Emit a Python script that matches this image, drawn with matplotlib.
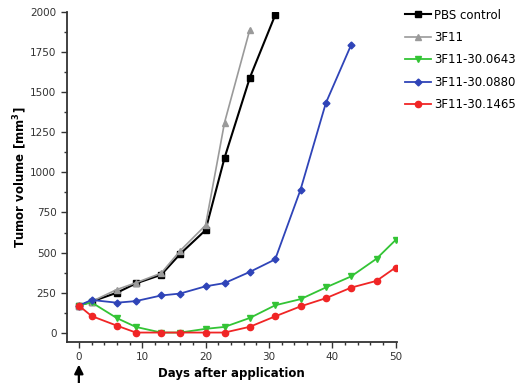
import matplotlib.pyplot as plt
from matplotlib.ticker import MultipleLocator

days_pbs = [0, 2, 6, 9, 13, 16, 20, 23, 27, 31]
pbs = [170, 195, 250, 308, 362, 492, 640, 1090, 1590, 1980]

days_3f11 = [0, 2, 6, 9, 13, 16, 20, 23, 27]
f11 = [170, 195, 270, 312, 372, 512, 670, 1310, 1890]

days_long = [0, 2, 6, 9, 13, 16, 20, 23, 27, 31, 35, 39, 43, 47, 50]
g0643 = [170, 190, 92, 37, 2, 2, 25, 37, 93, 172, 210, 283, 352, 462, 578]
g1465 = [170, 105, 45, 2, 2, 2, 2, 2, 38, 103, 165, 216, 282, 324, 407]

days_0880 = [0, 2, 6, 9, 13, 16, 20, 23, 27, 31, 35, 39, 43]
g0880 = [170, 205, 188, 198, 233, 245, 290, 310, 380, 458, 892, 1432, 1795]

fig = plt.figure(figsize=(5.18, 3.83), dpi=100)
ax = fig.add_axes([0.129, 0.107, 0.637, 0.862])

ax.plot(days_pbs, pbs, color="black", marker="s", ms=4.5, lw=1.5, label="PBS control")
ax.plot(days_3f11, f11, color="#9a9a9a", marker="^", ms=4, lw=1.2, label="3F11")
ax.plot(days_long, g0643, color="#33c435", marker="v", ms=5, lw=1.3, label="3F11-30.0643")
ax.plot(days_0880, g0880, color="#2f44b8", marker="D", ms=3.5, lw=1.3, label="3F11-30.0880")
ax.plot(days_long, g1465, color="#f02525", marker="o", ms=4.5, lw=1.3, label="3F11-30.1465")

ax.set_xlim(-1.9, 50.2)
ax.set_ylim(-57, 2000)
ax.xaxis.set_major_locator(MultipleLocator(10))
ax.xaxis.set_minor_locator(MultipleLocator(2))
ax.yaxis.set_major_locator(MultipleLocator(250))
ax.yaxis.set_minor_locator(MultipleLocator(125))
ax.spines["top"].set_visible(False)
ax.spines["right"].set_visible(False)
for s in ("left", "bottom"):
    ax.spines[s].set_linewidth(1.3)
    ax.spines[s].set_color("#333333")
ax.tick_params(which="major", length=4, width=1, labelsize=7.5, colors="#333333")
ax.tick_params(which="minor", length=2.5, width=1, colors="#333333")

ax.set_xlabel("Days after application", fontsize=8.5, fontweight="bold", labelpad=3)
ax.set_ylabel("Tumor volume [mm$^\\mathbf{3}$]", fontsize=8.5, fontweight="bold", labelpad=1)

# arrow marking the day of application
ax.annotate("", xy=(0, 0.048), xytext=(0, 0.0),
            xycoords=("data", "figure fraction"), textcoords=("data", "figure fraction"),
            annotation_clip=False,
            arrowprops=dict(arrowstyle="-|>", color="black", lw=1.6, mutation_scale=13,
                            shrinkA=0, shrinkB=0))

ax.legend(loc="upper left", bbox_to_anchor=(1.024, 1.01), frameon=False,
          fontsize=8.5, handlelength=2.2, labelspacing=0.8, handletextpad=0.3,
          borderpad=0, borderaxespad=0)

fig.savefig("out.png", dpi=100)
